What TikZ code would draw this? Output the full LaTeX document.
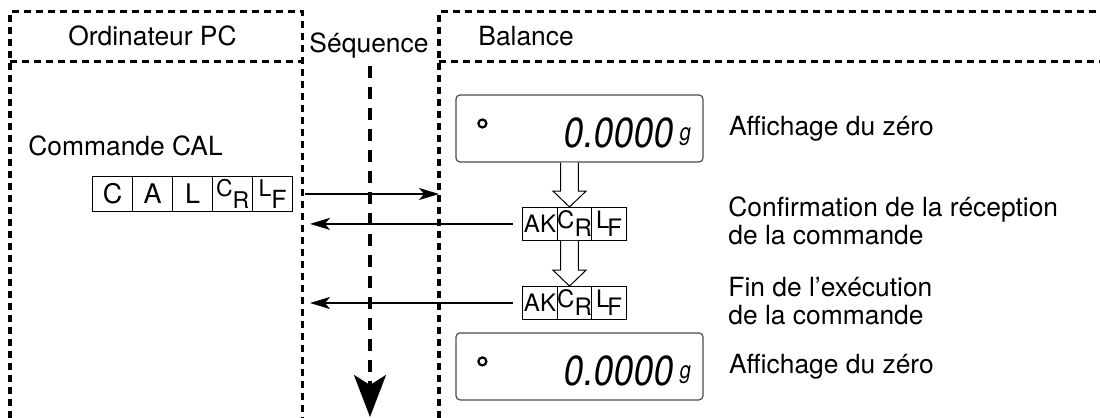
\documentclass[tikz,border=0pt]{standalone}
\usepackage{fontspec}
\setmainfont{TeX Gyre Heros}
\newfontfamily\lcdfont[FakeSlant=0.15, FakeStretch=0.85]{TeX Gyre Heros}
\usepackage{tikz}
\usetikzlibrary{arrows.meta, positioning, calc}

\begin{document}
\begin{tikzpicture}[
    x=0.5pt, y=-0.5pt,
    every node/.style={font=\fontsize{13.2}{14}\selectfont},
    frame/.style={line width=1.6pt, dash pattern=on 3.5pt off 2.5pt},
    seqline/.style={line width=1.6pt, dash pattern=on 6pt off 4.5pt, -{Stealth[length=21pt, width=16pt, inset=5pt]}},
    cell/.style={draw, line width=0.5pt, inner sep=0pt, outer sep=0pt, minimum width=20pt, minimum height=17.9pt, font=\fontsize{13.5}{13.5}\selectfont},
    akcell/.style={draw, line width=0.5pt, inner sep=0pt, outer sep=0pt, minimum width=17.2pt, minimum height=16.9pt, font=\fontsize{12}{12}\selectfont},
    display/.style={draw=black!70, line width=0.6pt, rounded corners=2pt, minimum width=123.5pt, minimum height=33.5pt},
    lamp/.style={circle, draw, line width=1.1pt, inner sep=0pt, minimum size=4pt},
    digits/.style={inner sep=0pt, font=\lcdfont\fontsize{21}{21}\selectfont},
    unit/.style={inner sep=0pt, font=\lcdfont\fontsize{12}{12}\selectfont},
    hollow/.style={draw, line width=0.5pt, fill=white},
    note/.style={anchor=west, align=left, inner sep=0pt},
    msg/.style={-{Stealth[length=10pt, width=6pt, inset=2.5pt]}, line width=0.8pt},
]
    \useasboundingbox (0,0) rectangle (1100,418);

    % Frames
    \draw[frame] (10,418) -- (10,11.7) -- (302.7,11.7) -- (302.7,418);
    \draw[frame] (10,61.7) -- (302.7,61.7);
    \draw[frame] (439,418) -- (439,11.7) -- (1100,11.7);
    \draw[frame] (439,61.7) -- (1100,61.7);
    \coordinate (pcx) at (310,61.7);
    \coordinate (balx) at (439,61.7);

    % Headers
    \node (pc) at (152.5,36) {Ordinateur PC};
    \node (seq) at (369,46) {Séquence};
    \node[anchor=west, inner sep=0pt] (bal) at (478,36) {Balance};

    % Sequence
    \coordinate (seqend) at (370,417);
    \draw[seqline] (seq.south -| seqend) -- (seqend);

    % PC side: CAL command
    \node[anchor=base west, inner sep=0pt] (cmd) at (28,155) {Commande CAL};
    \node[cell] (c) at (112.7,194) {C};
    \node[cell, right=0pt of c] (a) {A};
    \node[cell, right=0pt of a] (l) {L};
    \node[cell, right=0pt of l] (cr) {\fontsize{11.5}{11.5}\selectfont\raisebox{2.8pt}{C}\raisebox{-3.3pt}{R}};
    \node[cell, right=0pt of cr] (lf) {\fontsize{11.5}{11.5}\selectfont\raisebox{2.8pt}{L}\raisebox{-3.3pt}{\fontsize{12.5}{12.5}\selectfont F}};

    % Balance side: displays
    \node[display] (disp1) at (579.5,128.5) {};
    \node[lamp] (lamp1) at ($(disp1.west)+(27,-5)$) {};
    \node[digits] (val1) at ($(disp1.center)+(38,4.5)$) {0.0000};
    \node[unit] (g1) at ($(disp1.center)+(105,8)$) {g};

    \node[display] (disp2) at (579.5,366.4) {};
    \node[lamp] (lamp2) at ($(disp2.west)+(27,-5)$) {};
    \node[digits] (val2) at ($(disp2.center)+(38,4.5)$) {0.0000};
    \node[unit] (g2) at ($(disp2.center)+(105,8)$) {g};

    % Balance side: answers
    \node[akcell] (ak1) at (540,223.9) {AK};
    \node[akcell, right=0pt of ak1] (cr1) {\raisebox{1.8pt}{C}\raisebox{-2.2pt}{R}};
    \node[akcell, right=0pt of cr1] (lf1) {\raisebox{1.8pt}{L}\kern-1pt\raisebox{-2.2pt}{F}};

    \node[akcell] (ak2) at (540,303) {AK};
    \node[akcell, right=0pt of ak2] (cr2) {\raisebox{1.8pt}{C}\raisebox{-2.2pt}{R}};
    \node[akcell, right=0pt of cr2] (lf2) {\raisebox{1.8pt}{L}\kern-1pt\raisebox{-2.2pt}{F}};

    % Notes
    \node[note, right=12.5pt of disp1] (zero1) {Affichage du zéro};
    \node[note] (conf) at (728,221) {Confirmation de la réception\\de la commande};
    \node[note] (fin) at (728,301.5) {Fin de l’exécution\\de la commande};
    \node[note, right=12.5pt of disp2] (zero2) {Affichage du zéro};

    % Hollow arrows
    \draw[hollow] let \p1=(disp1.south), \p2=([xshift=-2.5pt]cr1.north) in
        (\x2-4.4pt,\y1) -- (\x2-4.4pt,\y2+8pt) -- (\x2-8.3pt,\y2+8pt) -- (\x2,\y2)
        -- (\x2+8.3pt,\y2+8pt) -- (\x2+4.4pt,\y2+8pt) -- (\x2+4.4pt,\y1);
    \draw[hollow] let \p1=(cr1.south), \p2=([xshift=-2.5pt]cr2.north) in
        (\x2-4.4pt,\y1) -- (\x2-4.4pt,\y2+8pt) -- (\x2-8.3pt,\y2+8pt) -- (\x2,\y2)
        -- (\x2+8.3pt,\y2+8pt) -- (\x2+4.4pt,\y2+8pt) -- (\x2+4.4pt,\y1);

    % Arrows
    \draw[msg] ([xshift=6pt]lf.east) -- (lf.east -| balx);
    \draw[msg] ([xshift=-5pt]ak1.west) -- (ak1.west -| pcx);
    \draw[msg] ([xshift=-5pt]ak2.west) -- (ak2.west -| pcx);
\end{tikzpicture}
\end{document}
